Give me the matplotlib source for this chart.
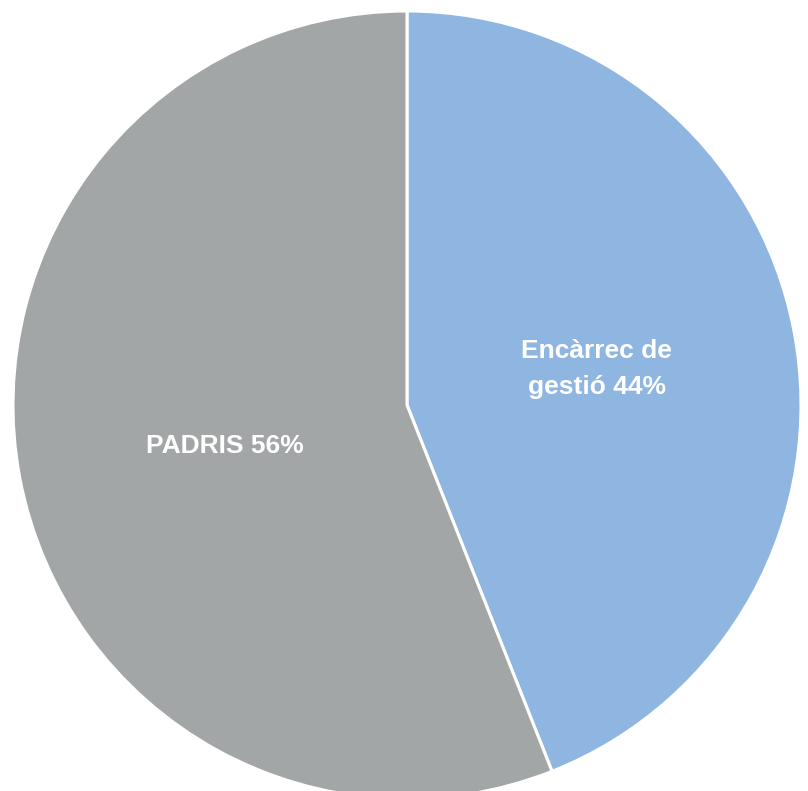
import matplotlib
matplotlib.use("Agg")
import matplotlib.pyplot as plt
import numpy as np

categories = ["Encàrrec de\ngestió", "PADRIS"]
shares = [44, 56]
colors = ["#8FB5E1", "#A3A6A6"]
label_dist = [0.49, 0.475]
label_angle_shift = [0.0, 2.0]

fig = plt.figure(figsize=(8.08, 7.91), dpi=100)
ax = fig.add_axes([0, 0, 1, 1])

cx, cy, R = 407, 386, 394
labels = [f"{c} {v}%" for c, v in zip(categories, shares)]
wedges, texts = ax.pie(
    shares, colors=colors, startangle=90, counterclock=False,
    center=(cx, cy), radius=R, labels=labels, labeldistance=0.49,
    wedgeprops=dict(edgecolor="white", linewidth=2.2),
    textprops=dict(color="white", fontsize=19, fontweight="bold",
                   family=["Liberation Sans", "DejaVu Sans"]),
    frame=True,
)
for w, t, d, s in zip(wedges, texts, label_dist, label_angle_shift):
    mid = np.deg2rad((w.theta1 + w.theta2) / 2 + s)
    t.set_position((cx + d * R * np.cos(mid), cy + d * R * np.sin(mid)))
    t.set_ha("center")
    t.set_va("center")
    t.set_linespacing(1.65)
ax.set_xlim(0, 808)
ax.set_ylim(0, 791)
ax.set_aspect("equal")
ax.axis("off")

fig.savefig("out.png", dpi=100)
